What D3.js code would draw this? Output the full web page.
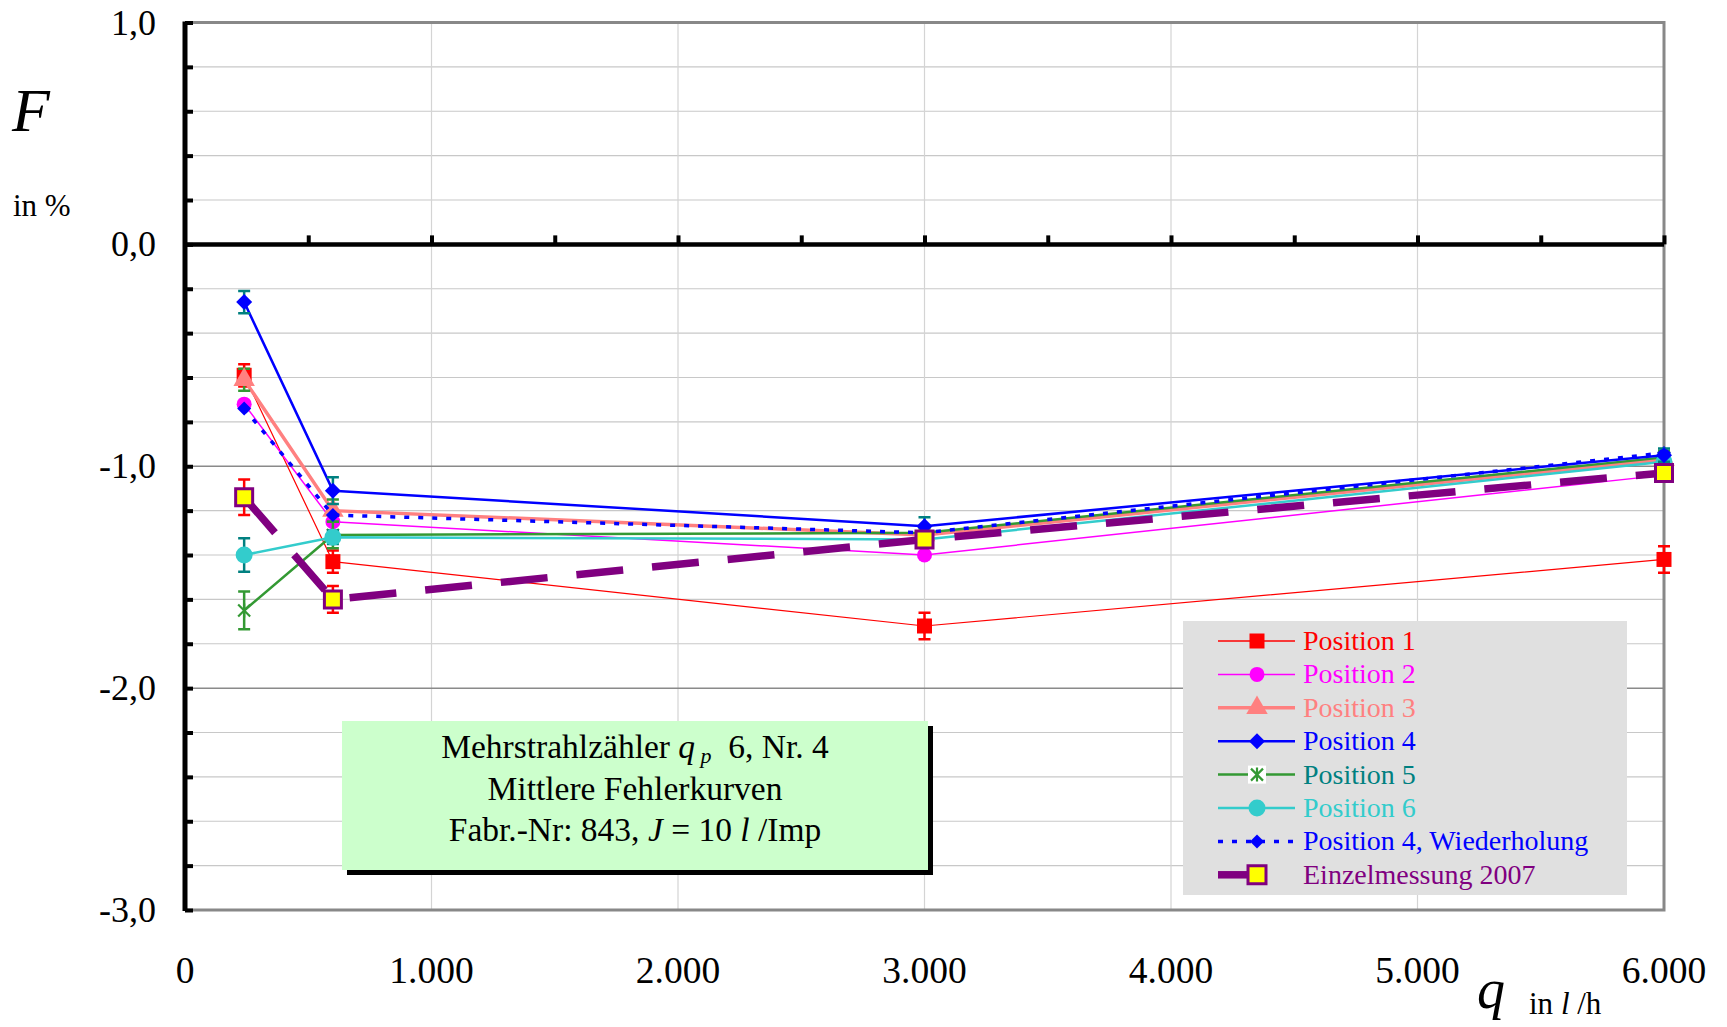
<!DOCTYPE html>
<html>
<head>
<meta charset="utf-8">
<script src="https://cdn.jsdelivr.net/npm/d3@7"></script>
<style>
  html, body { margin: 0; padding: 0; background: #fff; }
  svg text { font-family: "Liberation Serif", "Times New Roman", serif; }
</style>
</head>
<body>
<svg id="chart" width="1727" height="1027"></svg>
<script>
// Flow rates (l/h) at which the meter was tested
const flows = [240, 600, 3000, 6000];

// Mean error F in % per installation position
const pos1 = [-0.59, -1.43, -1.72, -1.42];
const pos2 = [-0.72, -1.25, -1.40, -1.04];
const pos3 = [-0.61, -1.20, -1.31, -0.97];
const pos4 = [-0.26, -1.11, -1.27, -0.95];
const pos5 = [-1.65, -1.31, -1.30, -0.96];
const pos6 = [-1.40, -1.32, -1.33, -0.98];
const pos4rep = [-0.74, -1.22, -1.30, -0.94];
const single2007 = [-1.14, -1.60, -1.33, -1.03];

// Half widths of the error bars (same units)
const err1 = [0.05, 0.05, 0.06, 0.06];
const err3 = [0.05, 0.05, 0.03, 0.03];
const err4 = [0.05, 0.06, 0.04, 0.03];
const err5 = [0.085, 0.06, 0.03, 0.03];
const err6 = [0.075, 0.03, 0.03, 0.03];
const err2007 = [0.08, 0.06, 0.03, 0.03];

const seriesNames = ["Position 1", "Position 2", "Position 3", "Position 4",
  "Position 5", "Position 6", "Position 4, Wiederholung", "Einzelmessung 2007"];

const yTicks = [1, 0, -1, -2, -3];
const xTicks = [0, 1000, 2000, 3000, 4000, 5000, 6000];

const svg = d3.select("#chart");
const plotL = 185, plotR = 1664, plotT = 22.5, plotB = 910;

const x = d3.scaleLinear().domain([0, 6000]).range([plotL, plotR]);
const y = d3.scaleLinear().domain([-3, 1]).range([plotB, plotT]);

const deLocale = d3.formatLocale({ decimal: ",", thousands: ".", grouping: [3], currency: ["", " €"], minus: "-" });
const fmtX = deLocale.format(",d");
const fmtY = deLocale.format(".1f");

// grid: minor horizontal lines every 0.2, major at integers, verticals every 1000
const g = svg.append("g");
const minorY = d3.range(-3, 1.0001, 0.2).map(v => Math.round(v * 10) / 10);
g.selectAll("line.hminor").data(minorY.filter(v => Math.abs(v - Math.round(v)) > 1e-6))
  .join("line")
  .attr("x1", plotL).attr("x2", plotR)
  .attr("y1", d => y(d)).attr("y2", d => y(d))
  .attr("stroke", "#c8c8c8").attr("stroke-width", 1.2);
g.selectAll("line.vgrid").data(xTicks.slice(1, -1))
  .join("line")
  .attr("x1", d => x(d)).attr("x2", d => x(d))
  .attr("y1", plotT).attr("y2", plotB)
  .attr("stroke", "#d4d4d4").attr("stroke-width", 1.2);
g.selectAll("line.hmajor").data([-1, -2])
  .join("line")
  .attr("x1", plotL).attr("x2", plotR)
  .attr("y1", d => y(d)).attr("y2", d => y(d))
  .attr("stroke", "#8a8a8a").attr("stroke-width", 1.5);

// plot frame (grey) on top, right and bottom
svg.append("path")
  .attr("d", `M${plotL},${plotT}H${plotR}V${plotB}H${plotL}`)
  .attr("fill", "none").attr("stroke", "#888").attr("stroke-width", 3);

// y axis with ticks every 0.2 pointing inwards
const yAxis = d3.axisRight(y).tickValues(minorY).tickSize(8).tickFormat("");
const ya = svg.append("g").attr("transform", `translate(${plotL},0)`).call(yAxis);
ya.select(".domain").attr("d", `M0,${plotT - 1}V${plotB + 1}`).attr("stroke", "#000").attr("stroke-width", 5);
ya.selectAll(".tick line").attr("stroke", "#000").attr("stroke-width", 4);

// zero line acting as x axis, ticks every 500 pointing up
const xAxis = d3.axisTop(x).tickValues(d3.range(500, 6001, 500)).tickSize(9).tickFormat("");
const xa = svg.append("g").attr("transform", `translate(0,${y(0)})`).call(xAxis);
xa.select(".domain").attr("d", `M${plotL},0H${plotR}`).attr("stroke", "#000").attr("stroke-width", 4.5);
xa.selectAll(".tick line").attr("stroke", "#000").attr("stroke-width", 4);

// tick labels
svg.selectAll("text.ylab").data(yTicks).join("text")
  .attr("x", 156).attr("y", d => y(d) + 12)
  .attr("text-anchor", "end").attr("font-size", 36)
  .text(d => fmtY(d));
svg.selectAll("text.xlab").data(xTicks).join("text")
  .attr("x", d => x(d)).attr("y", 983)
  .attr("text-anchor", "middle").attr("font-size", 37.5)
  .text(d => fmtX(d));

// axis titles
svg.append("text").attr("x", 12).attr("y", 131)
  .attr("font-size", 62).attr("font-style", "italic").text("F");
svg.append("text").attr("x", 13).attr("y", 216).attr("font-size", 31).text("in %");
svg.append("text").attr("x", 1477).attr("y", 1008)
  .attr("font-size", 56).attr("font-style", "italic").text("q");
const qu = svg.append("text").attr("x", 1529).attr("y", 1014).attr("font-size", 31);
qu.append("tspan").text("in ");
qu.append("tspan").attr("font-style", "italic").text("l");
qu.append("tspan").text(" /h");

// marker shapes
const symSquare = s => d3.symbol(d3.symbolSquare, s * s)();
const symCircle = r => d3.symbol(d3.symbolCircle, Math.PI * r * r)();
const symTri = s => d3.symbol(d3.symbolTriangle, s)();
const symDiamond = r => `M0,${-r}L${r},0L0,${r}L${-r},0Z`;
const symStar = r => `M${-r},${-r}L${r},${r}M${-r},${r}L${r},${-r}M0,${-r - 1}V${r + 1}`;

// series styles, in drawing order
const series = [
  { name: seriesNames[0], vals: pos1, err: err1, errColor: "#ff0000", color: "#ff0000", text: "#ff0000",
    width: 1.2, dash: null, marker: symSquare(15), fill: "#ff0000", mstroke: "none" },
  { name: seriesNames[1], vals: pos2, err: null, color: "#ff00ff", text: "#ff00ff",
    width: 1.5, dash: null, marker: symCircle(7.5), fill: "#ff00ff", mstroke: "none" },
  { name: seriesNames[2], vals: pos3, err: err3, errColor: "#339933", color: "#ff8080", text: "#ff8080",
    width: 3.5, dash: null, marker: symTri(200), fill: "#ff8080", mstroke: "none" },
  { name: seriesNames[4], vals: pos5, err: err5, errColor: "#339933", color: "#339933", text: "#008080",
    width: 2.5, dash: null, marker: symStar(6), fill: "none", mstroke: "#339933", mwidth: 2.2 },
  { name: seriesNames[5], vals: pos6, err: err6, errColor: "#008080", color: "#33cccc", text: "#33cccc",
    width: 2.5, dash: null, marker: symCircle(8.5), fill: "#33cccc", mstroke: "none" },
  { name: seriesNames[6], vals: pos4rep, err: null, color: "#0000ff", text: "#0000ff",
    width: 3.5, dash: "5,9", marker: symDiamond(7), fill: "#0000ff", mstroke: "none" },
  { name: seriesNames[3], vals: pos4, err: err4, errColor: "#008080", color: "#0000ff", text: "#0000ff",
    width: 2.5, dash: null, marker: symDiamond(8), fill: "#0000ff", mstroke: "none" },
  { name: seriesNames[7], vals: single2007, err: err2007, errColor: "#ff0000", color: "#800080", text: "#800080",
    width: 7.5, dash: "47,29", marker: symSquare(17), fill: "#ffff00", mstroke: "#800080", mwidth: 3 }
];

const line = d3.line().x(d => x(d[0])).y(d => y(d[1]));
const plot = svg.append("g");
series.forEach(s => {
  const pts = flows.map((f, i) => [f, s.vals[i]]);
  const sg = plot.append("g");
  sg.append("path").datum(pts).attr("d", line)
    .attr("fill", "none").attr("stroke", s.color).attr("stroke-width", s.width)
    .attr("stroke-dasharray", s.dash).attr("stroke-linejoin", "round");
  if (s.err) {
    const eg = sg.append("g").attr("stroke", s.errColor).attr("stroke-width", 2.5).attr("fill", "none");
    flows.forEach((f, i) => {
      const cx = x(f), y1 = y(s.vals[i] + s.err[i]), y2 = y(s.vals[i] - s.err[i]);
      eg.append("path").attr("d", `M${cx},${y1}V${y2}M${cx - 6},${y1}H${cx + 6}M${cx - 6},${y2}H${cx + 6}`);
    });
  }
  sg.selectAll("path.mk").data(pts).join("path")
    .attr("transform", d => `translate(${x(d[0])},${y(d[1])})`)
    .attr("d", s.marker).attr("fill", s.fill)
    .attr("stroke", s.mstroke).attr("stroke-width", s.mwidth || 0);
});

// info box with shadow
const bx = 342, by = 721, bw = 586, bh = 149;
svg.append("rect").attr("x", bx + 5).attr("y", by + 5).attr("width", bw).attr("height", bh).attr("fill", "#000");
svg.append("rect").attr("x", bx).attr("y", by).attr("width", bw).attr("height", bh).attr("fill", "#ccffcc");
const cxBox = bx + bw / 2;
const boxFont = 33.5;
const t1 = svg.append("text").attr("x", cxBox).attr("y", 758).attr("text-anchor", "middle").attr("font-size", boxFont);
t1.append("tspan").text("Mehrstrahlzähler ");
t1.append("tspan").attr("font-style", "italic").text("q");
t1.append("tspan").attr("font-style", "italic").attr("font-size", 22).attr("dy", 5).text(" p");
t1.append("tspan").attr("dy", -5).text("\u00a0 6, Nr. 4");
svg.append("text").attr("x", cxBox).attr("y", 800).attr("text-anchor", "middle").attr("font-size", boxFont)
  .text("Mittlere Fehlerkurven");
const t3 = svg.append("text").attr("x", cxBox).attr("y", 841).attr("text-anchor", "middle").attr("font-size", boxFont);
t3.append("tspan").text("Fabr.-Nr: 843, ");
t3.append("tspan").attr("font-style", "italic").text("J");
t3.append("tspan").text(" = 10 ");
t3.append("tspan").attr("font-style", "italic").text("l");
t3.append("tspan").text(" /Imp");

// legend
const legendOrder = [0, 1, 2, 6, 3, 4, 5, 7];
const lg = svg.append("g");
lg.append("rect").attr("x", 1183).attr("y", 621).attr("width", 444).attr("height", 274).attr("fill", "#e0e0e0");
legendOrder.forEach((si, row) => {
  const s = series[si];
  const ly = 641 + row * 33.4;
  const mx = 1257;
  if (s.name === seriesNames[7]) {
    lg.append("line").attr("x1", 1218).attr("x2", 1250).attr("y1", ly).attr("y2", ly)
      .attr("stroke", s.color).attr("stroke-width", s.width);
    lg.append("path").attr("transform", `translate(${mx},${ly})`).attr("d", symSquare(18))
      .attr("fill", s.fill).attr("stroke", s.mstroke).attr("stroke-width", 3);
  } else {
    lg.append("line").attr("x1", 1218).attr("x2", 1295).attr("y1", ly).attr("y2", ly)
      .attr("stroke", s.color).attr("stroke-width", s.name === seriesNames[0] ? 1.5 : s.width)
      .attr("stroke-dasharray", s.dash);
    if (s.name === seriesNames[4]) {
      lg.append("rect").attr("x", mx - 9).attr("y", ly - 9).attr("width", 18).attr("height", 18).attr("fill", "#fff");
    }
    lg.append("path").attr("transform", `translate(${mx},${ly})`).attr("d", s.marker)
      .attr("fill", s.fill).attr("stroke", s.mstroke).attr("stroke-width", s.mwidth || 0);
  }
  lg.append("text").attr("x", 1303).attr("y", ly + 9).attr("font-size", 28)
    .attr("fill", s.text).text(s.name);
});
</script>
</body>
</html>
